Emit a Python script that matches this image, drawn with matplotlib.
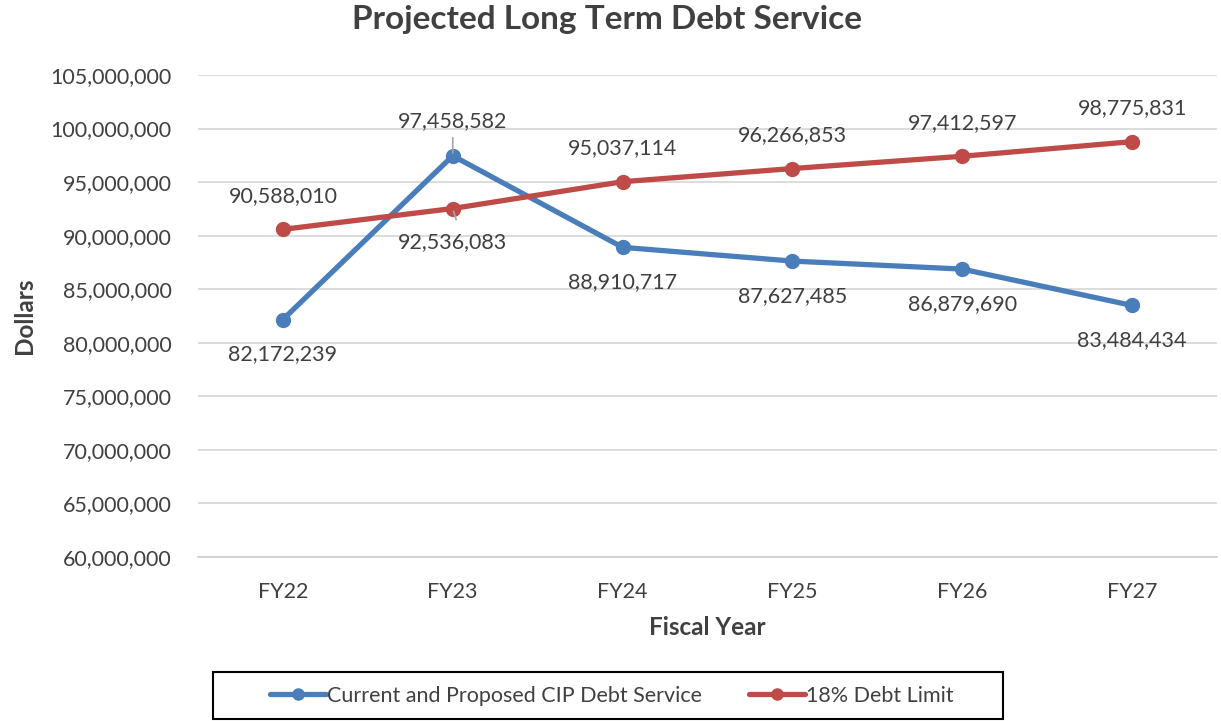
import matplotlib.pyplot as plt
from matplotlib.patches import Rectangle
from matplotlib.ticker import FuncFormatter

plt.rcParams['font.family'] = ['Lato', 'DejaVu Sans']

years = ["FY22", "FY23", "FY24", "FY25", "FY26", "FY27"]
cip_debt = [82172239, 97458582, 88910717, 87627485, 86879690, 83484434]
debt_limit = [90588010, 92536083, 95037114, 96266853, 97412597, 98775831]

blue = "#4A7EBB"
red = "#BE4B48"
txt = "#404040"

fig = plt.figure(figsize=(12.21, 7.21), dpi=100)
ax = fig.add_axes([198 / 1221, 1 - 557 / 721, (1217 - 198) / 1221, (557 - 75) / 721])

x = list(range(len(years)))
ax.plot(x, cip_debt, color=blue, lw=3.8, marker="o", ms=10,
        solid_capstyle="round", label="Current and Proposed CIP Debt Service", zorder=3)
ax.plot(x, debt_limit, color=red, lw=3.8, marker="o", ms=10,
        solid_capstyle="round", label="18% Debt Limit", zorder=3)

ax.set_xlim(-0.5, len(years) - 0.5)
ax.set_ylim(60000000, 105000000)
ax.set_yticks(range(60000000, 105000001, 5000000))
ax.yaxis.set_major_formatter(FuncFormatter(lambda v, p: f"{int(v):,}"))
ax.set_xticks(x)
ax.set_xticklabels(years)
ax.grid(axis="y", color="#D9D9D9", lw=1.3)
ax.set_axisbelow(True)
for s in ["top", "right", "left"]:
    ax.spines[s].set_visible(False)
ax.spines["bottom"].set_color("#D0D0D0")
ax.spines["bottom"].set_linewidth(1.3)
ax.tick_params(length=0, labelsize=15.5, colors=txt)
ax.tick_params(axis="x", pad=18)
ax.tick_params(axis="y", pad=19)

# data labels
for i, v in enumerate(cip_debt):
    off = 25 if i == 1 else -25
    ax.annotate(f"{v:,}", (i, v), xytext=(0, off), textcoords="offset points",
                ha="center", va="center", fontsize=15.5, color=txt)
for i, v in enumerate(debt_limit):
    off = -24 if i == 1 else 24
    ax.annotate(f"{v:,}", (i, v), xytext=(0, off), textcoords="offset points",
                ha="center", va="center", fontsize=15.5, color=txt)
# leader lines at FY23
ax.annotate("", (1, cip_debt[1]), xytext=(0, 15), textcoords="offset points",
            arrowprops=dict(arrowstyle="-", color="#A6A6A6", lw=1.2))
ax.annotate("", (1, debt_limit[1]), xytext=(3, -10), textcoords="offset points",
            arrowprops=dict(arrowstyle="-", color="#A6A6A6", lw=1.2))

ax.set_xlabel("Fiscal Year", fontsize=17.5, fontweight="bold", color=txt, labelpad=10)
ax.set_ylabel("Dollars", fontsize=17.5, fontweight="bold", color=txt, labelpad=10)
fig.suptitle("Projected Long Term Debt Service", x=607 / 1221, y=1 - 5 / 721,
             va="top", fontsize=24, fontweight="bold", color=txt)

fig.legend(loc="center", bbox_to_anchor=(612 / 1221, 1 - 696 / 721), ncol=2,
           frameon=False, fontsize=15.5, handlelength=2.6,
           handletextpad=0.05, columnspacing=2.2, borderpad=0,
           borderaxespad=0, labelcolor=txt, markerscale=0.8)
# legend box
fig.patches.append(Rectangle((213 / 1221, 1 - 719 / 721), 790 / 1221, 47 / 721,
                             transform=fig.transFigure, fill=False,
                             edgecolor="black", lw=1.5))

fig.savefig("out.png", dpi=100)
